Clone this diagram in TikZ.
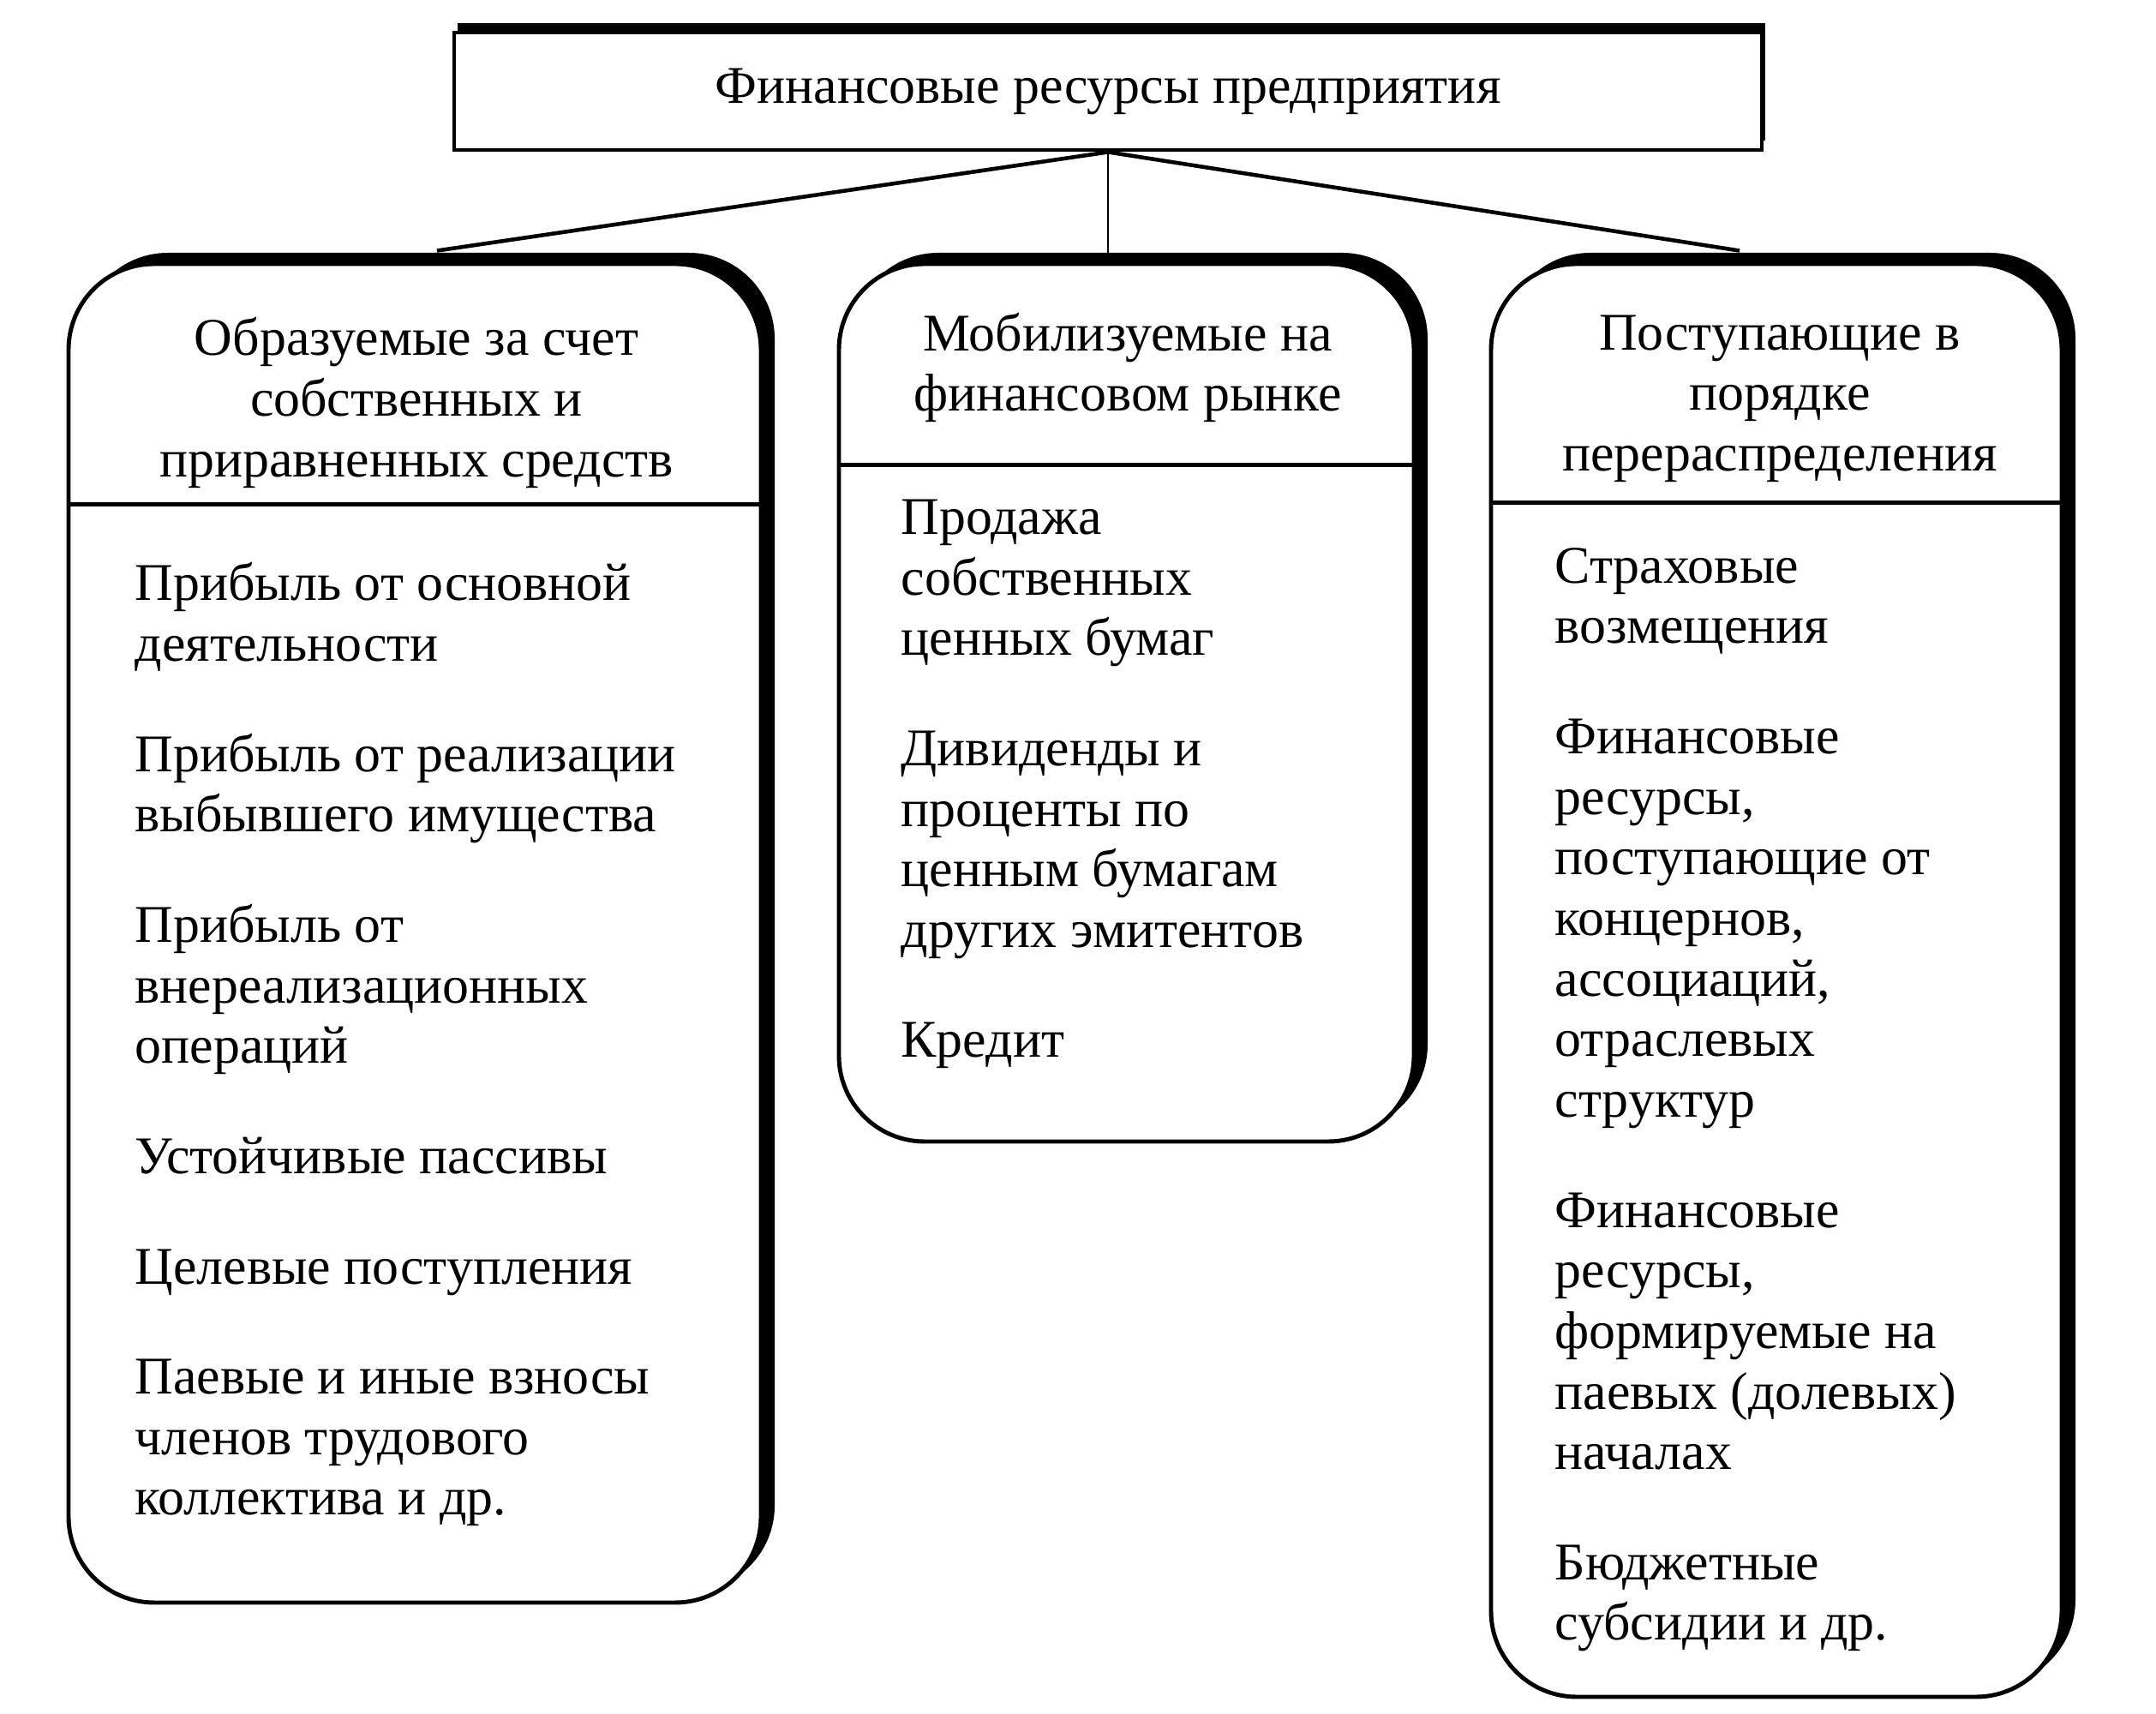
\documentclass[tikz,border=0pt]{standalone}
\usepackage{fontspec}
\setmainfont{Liberation Serif}
\usetikzlibrary{shadows}
\begin{document}
\begin{tikzpicture}[
  every node/.style={font=\fontsize{17.6}{20.1}\selectfont},
  boxline/.style={line width=1.4pt},
  colbox/.style={draw, line width=1.4pt, fill=white, rounded corners=1cm, inner sep=0pt,
    drop shadow={shadow xshift=0.16cm, shadow yshift=0.13cm, fill=black, opacity=1}},
  headtext/.style={align=center, inner sep=0pt},
  bodytext/.style={align=left, anchor=base west, inner sep=0pt}
]
\useasboundingbox (0,0) rectangle (25.16,20);
\fill[white] (0,0) rectangle (25.16,20);

\node[draw, boxline, fill=white, minimum width=15.26cm, minimum height=1.37cm,
  drop shadow={shadow xshift=0.04cm, shadow yshift=0.11cm, fill=black, opacity=1}]
  (title) at (12.93,18.935) {Финансовые ресурсы предприятия};

\node[colbox, minimum width=8.08cm, minimum height=15.62cm] (lbox) at (4.84,9.11) {};
\node[colbox, minimum width=6.71cm, minimum height=10.24cm] (mbox) at (13.145,11.80) {};
\node[colbox, minimum width=6.66cm, minimum height=16.72cm] (rbox) at (20.73,8.56) {};

\draw[boxline] ([yshift=-2.83cm]lbox.north west) -- ([yshift=-2.83cm]lbox.north east);
\draw[boxline] ([yshift=-2.37cm]mbox.north west) -- ([yshift=-2.37cm]mbox.north east);
\draw[boxline] ([yshift=-2.81cm]rbox.north west) -- ([yshift=-2.81cm]rbox.north east);

\draw[line width=1.3pt] (title.south) -- ([xshift=2.6mm,yshift=1.3mm]lbox.north);
\draw[line width=0.8pt] (title.south) -- (title.south |- mbox.north);
\draw[line width=1.3pt] (title.south) -- ([xshift=-4.3mm,yshift=1.3mm]rbox.north);

\node[headtext] (lhead) at (4.86,15.30) {Образуемые за счет\\собственных и\\приравненных средств};
\node[headtext] (mhead) at (13.16,15.71) {Мобилизуемые на\\финансовом рынке};
\node[headtext] (rhead) at (20.77,15.35) {Поступающие в\\порядке\\перераспределения};

\node[bodytext] (lbody) at (1.57,2.32) {Прибыль от основной\\деятельности\\[5.8mm]
  Прибыль от реализации\\выбывшего имущества\\[5.8mm]
  Прибыль от\\внереализационных\\операций\\[5.8mm]
  Устойчивые пассивы\\[5.8mm]
  Целевые поступления\\[5.8mm]
  Паевые и иные взносы\\членов трудового\\коллектива и др.};
\node[bodytext] (mbody) at (10.51,7.66) {Продажа\\собственных\\ценных бумаг\\[5.8mm]
  Дивиденды и\\проценты по\\ценным бумагам\\других эмитентов\\[5.8mm]
  Кредит};
\node[bodytext] (rbody) at (18.14,0.86) {Страховые\\возмещения\\[5.8mm]
  Финансовые\\ресурсы,\\поступающие от\\концернов,\\ассоциаций,\\отраслевых\\структур\\[5.8mm]
  Финансовые\\ресурсы,\\формируемые на\\паевых (долевых)\\началах\\[5.8mm]
  Бюджетные\\субсидии и др.};
\end{tikzpicture}
\end{document}
